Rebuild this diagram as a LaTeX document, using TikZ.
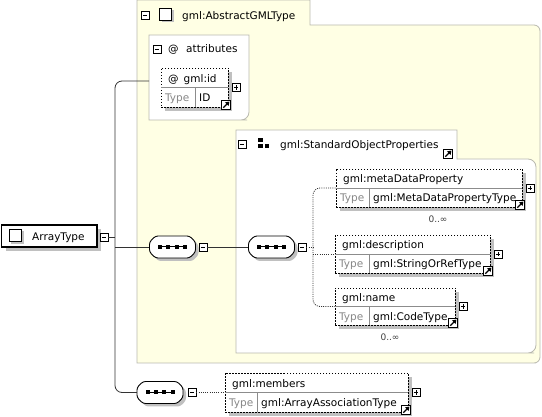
\documentclass[tikz,border=0pt]{standalone}
\usepackage{fontspec}
\setmainfont{DejaVu Sans}
\usetikzlibrary{shadows,fit,arrows.meta}
\definecolor{grpyellow}{RGB}{255,255,228}
\definecolor{grpborder}{RGB}{185,185,175}
\definecolor{shadowgray}{RGB}{192,192,192}
\definecolor{typegray}{RGB}{135,135,135}
\definecolor{divgray}{RGB}{140,140,140}
\definecolor{connc}{RGB}{50,50,50}
\tikzset{
  every node/.style={font=\fontsize{10.5}{12}\selectfont},
  sh/.style={drop shadow={shadow xshift=4pt, shadow yshift=-4pt, fill=shadowgray, opacity=1}},
  elem/.style={draw=black, line width=0.8pt, dash pattern=on 1.5pt off 1.5pt, fill=white, inner sep=0pt, sh},
  divline/.style={draw=divgray, line width=0.6pt},
  lbl/.style={anchor=base west, inner sep=0pt},
  typelbl/.style={lbl, text=typegray},
  mult/.style={inner sep=0pt, text=black!75, font=\fontsize{9}{10}\selectfont},
  iconbox/.style={draw=black, fill=white, line width=0.7pt, inner sep=0pt, minimum size=8pt},
  minusbox/.style={iconbox, path picture={\draw[line width=0.8pt] ([xshift=1.8pt]path picture bounding box.west) -- ([xshift=-1.8pt]path picture bounding box.east);}},
  plusbox/.style={iconbox, path picture={\draw[line width=0.8pt] ([xshift=1.8pt]path picture bounding box.west) -- ([xshift=-1.8pt]path picture bounding box.east) ([yshift=-1.8pt]path picture bounding box.north) -- ([yshift=1.8pt]path picture bounding box.south);}},
  linkbox/.style={draw=black, fill=white, line width=0.8pt, inner sep=0pt, minimum size=9.5pt, path picture={\draw[line width=1.3pt, -{Triangle[length=3.8pt,width=4.8pt]}] ([shift={(2pt,2pt)}]path picture bounding box.south west) -- ([shift={(-1.3pt,-1.3pt)}]path picture bounding box.north east);}},
  seqanchor/.style={inner sep=0pt, minimum width=46pt, minimum height=22pt},
  seqline/.style={draw=black, line width=0.9pt, fill=white, rounded corners=2.5pt},
  conn/.style={draw=connc, line width=0.8pt},
  dconn/.style={draw=connc, line width=0.8pt, dash pattern=on 1pt off 1.2pt},
  grp/.style={draw=grpborder, line width=0.8pt},
  sqicon/.style={draw=black, fill=white, line width=0.7pt, inner sep=0pt, minimum size=12pt, drop shadow={shadow xshift=2pt, shadow yshift=-2pt, fill=shadowgray, opacity=1}}
}
\newcommand\xelem[8]{%
  \pgfmathsetmacro\yd{(#3+#5)/2}%
  \pgfmathsetmacro\ya{(#3+\yd)/2+4.5}%
  \pgfmathsetmacro\yb{(\yd+#5)/2+4.3}%
  \node[elem, fit={(#2,#3) (#4,#5)}] (#1) {};
  \draw[divline] (#2,\yd) -- (#4,\yd) (#6,\yd) -- (#6,#5);
  \node[lbl] (#1-t) at ({#2+7},\ya) {#7};
  \node[typelbl] (#1-k) at ({#2+4},\yb) {Type};
  \node[lbl] (#1-y) at ({#6+4},\yb) {#8};
  \node[plusbox] (#1-p) at ({#4+8},\yd) {};
  \node[linkbox] (#1-l) at ({#4-2},{#5-2}) {};
}
\newcommand\octpath[3]{({#1-17+#3},{#2-11+#3}) -- ({#1+17+#3},{#2-11+#3}) -- ({#1+23+#3},{#2-5+#3}) -- ({#1+23+#3},{#2+5+#3}) -- ({#1+17+#3},{#2+11+#3}) -- ({#1-17+#3},{#2+11+#3}) -- ({#1-23+#3},{#2+5+#3}) -- ({#1-23+#3},{#2-5+#3}) -- cycle}
\newcommand\seqnode[3]{%
  \fill[shadowgray, rounded corners=2.5pt] \octpath{#2}{#3}{3};
  \draw[seqline] \octpath{#2}{#3}{0};
  \node[seqanchor] (#1) at (#2,#3) {};
  \draw[line width=1pt] ([xshift=-12.5pt]#1.center) -- ([xshift=12.5pt]#1.center);
  \foreach \d in {-12.5,-4.17,4.17,12.5}{\fill ([xshift=\d pt]#1.center) +(-2pt,-2pt) rectangle +(2pt,2pt);}
}
\begin{document}
\begin{tikzpicture}[x=1pt,y=-1pt]
\useasboundingbox (0,0) rectangle (542,417);
% ---- AbstractGMLType group
\draw[grp, fill=grpyellow] (137,363) -- (137,0) -- (310,0) -- (310,25) -- (530,25) [rounded corners=6pt] -- (540,25) -- (540,363) -- (530,363) [sharp corners] -- cycle;
\node[minusbox] (gm) at (145,15) {};
\node[sqicon] (gsq) at (165.5,14.5) {};
\node[lbl] (gt) at (182,19.5) {gml:AbstractGMLType};
% ---- attributes group
\draw[grp, fill=white] (149,35) -- (249,35) -- (249,110) [rounded corners=8pt] -- (249,120) -- (239,120) [sharp corners] -- (149,120) -- cycle;
\node[minusbox] (am) at (157,49) {};
\node[lbl] (aat) at (168,53) {@};
\node[lbl] (at) at (186,53) {attributes};
\coordinate (attrin) at (149,81);
\xelem{gid}{161}{68}{228}{107}{195}{@\hspace{5pt}gml:id}{ID}
% ---- StandardObjectProperties group
\draw[grp, fill=white] (236,130) -- (457,130) -- (457,159) -- (526,159) [rounded corners=8pt] -- (536,159) -- (536,353) -- (526,353) [sharp corners] -- (236,353) -- cycle;
\node[minusbox] (sm) at (242,144) {};
\fill (258.3,138.3) rectangle (262.5,142.5);
\fill (258.3,144) rectangle (262.5,148);
\fill (265,144) rectangle (269.2,148);
\node[lbl] (st) at (280,148.5) {gml:StandardObjectProperties};
\node[linkbox] (sl) at (448,154) {};
\xelem{meta}{336}{169}{522}{207}{369}{gml:metaDataProperty}{gml:MetaDataPropertyType}
\node[mult] (mm) at (438,219) {0..∞};
\xelem{desc}{335}{235}{490}{273}{369}{gml:description}{gml:StringOrRefType}
\xelem{name}{335}{288}{455}{325}{369}{gml:name}{gml:CodeType}
\node[mult] (nm) at (390,337) {0..∞};
% ---- ArrayType
\node[draw=black, line width=1.5pt, fill=white, sh, inner sep=0pt, fit={(1.5,225) (97,247)}] (arr) {};
\node[sqicon, minimum size=12.5pt] (asq) at (15.5,235.5) {};
\node[lbl] (art) at (32,240.5) {ArrayType};
\node[minusbox] (m0) at (104,237) {};
% ---- sequences
\seqnode{s1}{172.5}{247}
\node[minusbox] (m1) at (203,247) {};
\seqnode{s2}{271.5}{247}
\node[minusbox] (m2) at (302,247) {};
\seqnode{s3}{160}{392.5}
\node[minusbox] (m3) at (192,392.5) {};
\xelem{mem}{225}{373}{408}{412}{257}{gml:members}{gml:ArrayAssociationType}
% ---- connectors
\draw[conn] (m0.east) -- (115,237);
\draw[conn, rounded corners=7pt] (attrin) -- (115,81) -- (115,392.5) -- (s3.west);
\draw[conn] (115,247) -- (s1.west);
\draw[conn] (m1.east) -- (s2.west);
\draw[dconn] (m2.east) -- (313,247);
\draw[dconn, rounded corners=7pt] (meta.west) -- (313,188) -- (313,306.5) -- (name.west);
\draw[dconn] (313,254) -- (desc.west);
\draw[dconn] (m3.east) -- (mem.west);
\end{tikzpicture}
\end{document}
